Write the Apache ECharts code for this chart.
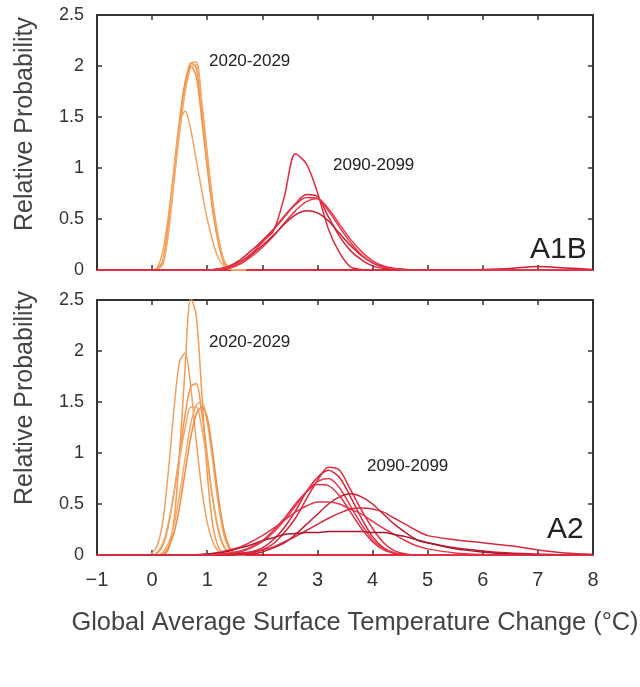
<!DOCTYPE html>
<html>
<head>
    <meta charset="utf-8">
    <title>Global Average Surface Temperature Change</title>
    <script src="https://cdn.jsdelivr.net/npm/echarts@6/dist/echarts.min.js"></script>
</head>
<body style="margin:0;background:#fff;">
    <div id="main" style="width: 640px; height: 687px;"></div>

    <script>
        var myChart = echarts.init(document.getElementById('main'));

        // x positions (°C) shared by the 2020-2029 curves
        var xOrange = [-0.2, -0.1, 0, 0.1, 0.2, 0.3, 0.4, 0.5, 0.6, 0.7, 0.8, 0.9, 1.0, 1.1, 1.2, 1.3, 1.4, 1.5, 1.6, 1.7];
        // x positions (°C) shared by the 2090-2099 curves
        var xRed = [-1, 0.6, 1.0, 1.2, 1.4, 1.6, 1.8, 2.0, 2.2, 2.4, 2.6, 2.8, 3.0, 3.2, 3.4, 3.6, 3.8, 4.0, 4.2, 4.4, 4.6, 4.8, 5.0, 5.5, 6.0, 6.5, 7.0, 7.5, 8.0];

        // A1B, 2020-2029
        var a1bOrange1 = [0, 0, 0, 0.01, 0.08, 0.45, 0.95, 1.42, 1.8, 2.03, 1.98, 1.55, 1.08, 0.62, 0.3, 0.08, 0.01, 0, 0, 0];
        var a1bOrange2 = [0, 0, 0, 0.01, 0.06, 0.38, 0.88, 1.36, 1.76, 2.02, 2.04, 1.65, 1.15, 0.68, 0.32, 0.1, 0.02, 0, 0, 0];
        var a1bOrange3 = [0, 0, 0, 0.02, 0.1, 0.5, 1.0, 1.48, 1.85, 2.0, 1.9, 1.48, 1.0, 0.58, 0.27, 0.07, 0.01, 0, 0, 0];
        var a1bOrange4 = [0, 0, 0, 0.01, 0.07, 0.4, 0.9, 1.38, 1.75, 1.98, 2.01, 1.62, 1.12, 0.66, 0.33, 0.1, 0.02, 0, 0, 0];
        var a1bOrange5 = [0, 0, 0, 0.03, 0.2, 0.55, 1.0, 1.45, 1.56, 1.38, 1.08, 0.78, 0.5, 0.28, 0.12, 0.04, 0.01, 0, 0, 0];

        // A1B, 2090-2099
        var a1bRed1 = [0, 0, 0, 0.005, 0.02, 0.06, 0.15, 0.28, 0.38, 0.72, 1.14, 1.04, 0.76, 0.4, 0.17, 0.03, 0.005, 0, 0, 0, 0, 0, 0, 0, 0, 0, 0, 0, 0];
        var a1bRed2 = [0, 0, 0, 0.01, 0.04, 0.1, 0.19, 0.29, 0.4, 0.53, 0.65, 0.74, 0.72, 0.52, 0.33, 0.19, 0.1, 0.04, 0.015, 0.005, 0, 0, 0, 0, 0, 0, 0, 0, 0];
        var a1bRed3 = [0, 0, 0, 0.005, 0.02, 0.06, 0.13, 0.22, 0.33, 0.46, 0.58, 0.67, 0.70, 0.6, 0.45, 0.3, 0.18, 0.09, 0.04, 0.015, 0.005, 0, 0, 0, 0, 0, 0, 0, 0];
        var a1bRed4 = [0, 0, 0, 0.01, 0.03, 0.08, 0.15, 0.24, 0.34, 0.45, 0.54, 0.58, 0.56, 0.48, 0.36, 0.24, 0.14, 0.07, 0.03, 0.012, 0.005, 0, 0, 0, 0.005, 0.015, 0.035, 0.02, 0.005];
        var a1bRed5 = [0, 0, 0, 0.01, 0.03, 0.08, 0.16, 0.27, 0.39, 0.52, 0.64, 0.71, 0.7, 0.58, 0.42, 0.27, 0.15, 0.07, 0.03, 0.01, 0, 0, 0, 0, 0, 0, 0, 0, 0];

        // A2, 2020-2029
        var a2Orange1 = [0, 0, 0, 0, 0, 0.06, 0.35, 1.0, 1.85, 2.52, 2.35, 1.6, 0.8, 0.3, 0.08, 0.01, 0, 0, 0, 0];
        var a2Orange2 = [0, 0, 0.02, 0.1, 0.35, 0.85, 1.45, 1.9, 1.98, 1.65, 1.12, 0.65, 0.32, 0.13, 0.04, 0.01, 0, 0, 0, 0];
        var a2Orange3 = [0, 0, 0, 0.02, 0.1, 0.3, 0.62, 1.0, 1.38, 1.65, 1.68, 1.4, 0.98, 0.55, 0.24, 0.08, 0.02, 0, 0, 0];
        var a2Orange4 = [0, 0, 0, 0, 0.03, 0.12, 0.3, 0.6, 0.95, 1.28, 1.47, 1.5, 1.3, 0.92, 0.5, 0.2, 0.06, 0.01, 0, 0];
        var a2Orange5 = [0, 0, 0, 0.03, 0.12, 0.32, 0.62, 0.95, 1.25, 1.45, 1.45, 1.25, 0.92, 0.55, 0.26, 0.09, 0.02, 0, 0, 0];
        var a2Orange6 = [0, 0, 0, 0, 0.01, 0.08, 0.22, 0.48, 0.82, 1.15, 1.38, 1.45, 1.35, 1.0, 0.58, 0.25, 0.08, 0.02, 0, 0];

        // A2, 2090-2099
        var a2Red1 = [0, 0, 0, 0, 0, 0.01, 0.02, 0.05, 0.11, 0.22, 0.36, 0.55, 0.73, 0.86, 0.83, 0.64, 0.44, 0.26, 0.12, 0.04, 0.01, 0, 0, 0, 0, 0, 0, 0, 0];
        var a2Red2 = [0, 0, 0, 0, 0.005, 0.01, 0.03, 0.07, 0.15, 0.27, 0.43, 0.62, 0.76, 0.83, 0.76, 0.57, 0.36, 0.18, 0.07, 0.02, 0.005, 0, 0, 0, 0, 0, 0, 0, 0];
        var a2Red3 = [0, 0, 0, 0, 0.01, 0.03, 0.07, 0.13, 0.22, 0.34, 0.48, 0.62, 0.72, 0.75, 0.66, 0.48, 0.3, 0.15, 0.06, 0.02, 0, 0, 0, 0, 0, 0, 0, 0, 0];
        var a2Red4 = [0, 0, 0, 0, 0, 0.005, 0.01, 0.03, 0.07, 0.12, 0.2, 0.3, 0.4, 0.5, 0.57, 0.6, 0.57, 0.5, 0.4, 0.3, 0.22, 0.15, 0.12, 0.07, 0.04, 0.02, 0.01, 0, 0];
        var a2Red5 = [0, 0, 0.01, 0.025, 0.05, 0.08, 0.13, 0.19, 0.26, 0.34, 0.42, 0.48, 0.52, 0.52, 0.5, 0.45, 0.4, 0.33, 0.26, 0.2, 0.14, 0.09, 0.06, 0.02, 0.005, 0, 0, 0, 0];
        var a2Red6 = [0, 0, 0, 0.005, 0.01, 0.02, 0.03, 0.05, 0.08, 0.13, 0.18, 0.24, 0.3, 0.36, 0.41, 0.45, 0.46, 0.45, 0.42, 0.36, 0.3, 0.24, 0.19, 0.15, 0.12, 0.09, 0.05, 0.02, 0.005];
        var a2Red7 = [0, 0, 0.01, 0.02, 0.04, 0.07, 0.1, 0.14, 0.17, 0.2, 0.21, 0.22, 0.22, 0.23, 0.23, 0.23, 0.23, 0.22, 0.22, 0.2, 0.18, 0.15, 0.12, 0.06, 0.03, 0.01, 0, 0, 0];
        var a2Red8 = [0, 0, 0, 0.01, 0.02, 0.04, 0.08, 0.14, 0.24, 0.36, 0.5, 0.62, 0.69, 0.68, 0.58, 0.42, 0.26, 0.13, 0.05, 0.015, 0, 0, 0, 0, 0, 0, 0, 0, 0];

        var xTicks = [-1, 0, 1, 2, 3, 4, 5, 6, 7, 8];
        var yTicks = [0, 0.5, 1, 1.5, 2, 2.5];

        var orangeColors = ['#f59a50', '#f2a060', '#f39348', '#f7aa68', '#f5a562', '#f08c40'];
        var redColors = ['#e42a3c', '#d92238', '#ec3a4c', '#c81e32', '#e8354a', '#d42a40', '#a8172c', '#e0304a'];

        var FONT = 'Liberation Sans, Arial, sans-serif';
        var FRAME = '#333';
        var BASE = '#e8283c';

        function pairs(xs, ys) {
            return xs.map(function (x, i) { return [x, ys[i]]; });
        }

        function makeLines(list, xs, colors, axisIdx, isRed) {
            return list.map(function (ys, i) {
                return {
                    type: 'line',
                    xAxisIndex: axisIdx,
                    yAxisIndex: axisIdx,
                    data: pairs(xs, ys),
                    smooth: 0.3,
                    showSymbol: false,
                    silent: true,
                    clip: !isRed,
                    z: isRed ? 4 : 3,
                    lineStyle: { color: colors[i % colors.length], width: 1.5 }
                };
            });
        }

        function xAx(grid, pos, withLabels) {
            return {
                type: 'value', gridIndex: grid, position: pos,
                min: xTicks[0], max: xTicks[xTicks.length - 1], interval: 1,
                axisLine: { show: true, onZero: false, lineStyle: { color: pos === 'bottom' ? BASE : FRAME, width: 2 } },
                axisTick: { show: true, inside: true, length: 5, lineStyle: { color: FRAME, width: 1.5 } },
                axisLabel: {
                    show: withLabels, fontSize: 20, color: '#333', fontFamily: FONT, margin: 15,
                    formatter: function (v) { return v < 0 ? '\u2212' + Math.abs(v) : String(v); }
                },
                splitLine: { show: false }
            };
        }

        function yAx(grid, pos, withLabels) {
            return {
                type: 'value', gridIndex: grid, position: pos,
                min: yTicks[0], max: yTicks[yTicks.length - 1], interval: 0.5,
                axisLine: { show: true, onZero: false, lineStyle: { color: FRAME, width: 2 } },
                axisTick: { show: true, inside: true, length: 5, lineStyle: { color: FRAME, width: 1.5 } },
                axisLabel: { show: withLabels, fontSize: 18, color: '#333', fontFamily: FONT, margin: 13 },
                splitLine: { show: false }
            };
        }

        var xAxes = [xAx(0, 'bottom', false), xAx(0, 'top', false), xAx(1, 'bottom', true), xAx(1, 'top', false)];
        xAxes[2].name = 'Global Average Surface Temperature Change (°C)';
        xAxes[2].nameLocation = 'middle';
        xAxes[2].nameGap = 55;
        xAxes[2].nameTextStyle = { fontSize: 25.4, color: '#444', fontFamily: FONT, padding: [0, 0, 0, 20] };

        var yAxes = [yAx(0, 'left', true), yAx(0, 'right', false), yAx(1, 'left', true), yAx(1, 'right', false)];

        // orange first, red drawn over it (bottom edge reads red in the original)
        var series = [].concat(
            makeLines([a1bOrange1, a1bOrange2, a1bOrange3, a1bOrange4, a1bOrange5], xOrange, orangeColors, 0, false),
            makeLines([a2Orange1, a2Orange2, a2Orange3, a2Orange4, a2Orange5, a2Orange6], xOrange, orangeColors, 2, false),
            makeLines([a1bRed1, a1bRed2, a1bRed3, a1bRed4, a1bRed5], xRed, redColors, 0, true),
            makeLines([a2Red1, a2Red2, a2Red3, a2Red4, a2Red5, a2Red6, a2Red7, a2Red8], xRed, redColors, 2, true)
        );

        function label(text, x, y, size) {
            return {
                type: 'text', x: x, y: y,
                style: { text: text, fontSize: size, fontFamily: FONT, fill: '#222', textAlign: 'left', textVerticalAlign: 'middle' }
            };
        }

        function yTitle(y) {
            return {
                type: 'text', x: 25, y: y, rotation: Math.PI / 2,
                style: { text: 'Relative Probability', fontSize: 25, fontFamily: FONT, fill: '#444', textAlign: 'center', textVerticalAlign: 'middle' }
            };
        }

        var option = {
            animation: false,
            backgroundColor: '#fff',
            grid: [
                { left: 97, right: 47, top: 15, height: 255, containLabel: false, outerBoundsMode: 'none' },
                { left: 97, right: 47, top: 300, height: 255, containLabel: false, outerBoundsMode: 'none' }
            ],
            xAxis: xAxes,
            yAxis: yAxes,
            graphic: [
                label('2020-2029', 209, 61, 17),
                label('2090-2099', 333, 165, 17),
                label('2020-2029', 209, 342, 17),
                label('2090-2099', 367, 466, 17),
                label('A1B', 530, 250, 30),
                label('A2', 547, 530, 30),
                yTitle(124),
                yTitle(398)
            ],
            series: series
        };

        myChart.setOption(option);
    </script>
</body>
</html>
